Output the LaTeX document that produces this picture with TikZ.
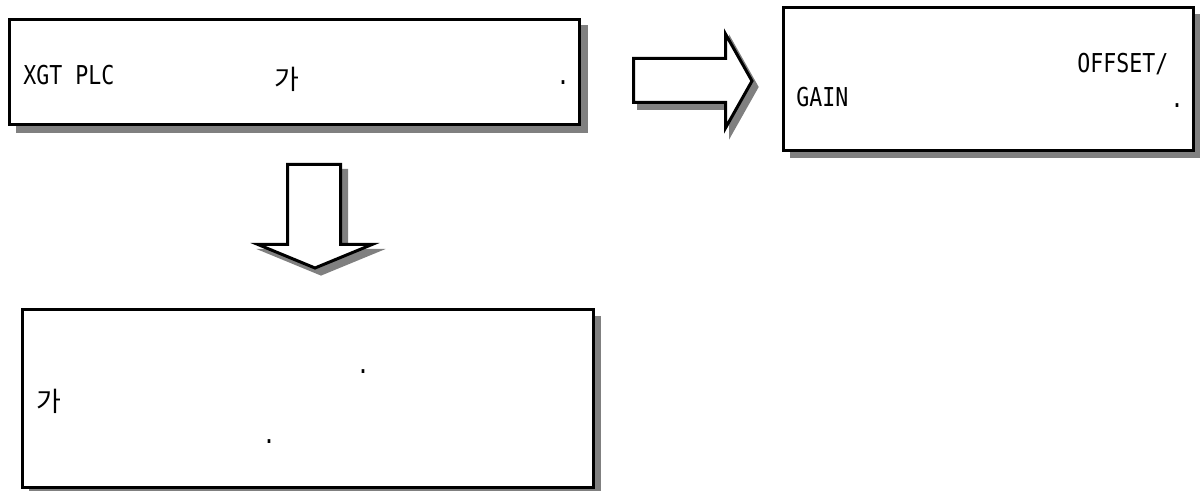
\documentclass[tikz,border=0pt]{standalone}
\usepackage{fontspec}
\setmainfont{DejaVu Sans Mono}[FakeStretch=0.83]
\newfontfamily\kor{Noto Sans CJK KR}
\definecolor{shadowgray}{RGB}{128,128,128}
\begin{document}
\begin{tikzpicture}[x=0.5pt,y=-0.5pt,
  box/.style={draw=black, fill=white, line width=1.5pt, rectangle, inner sep=0pt},
  shade/.style={draw=shadowgray, fill=shadowgray, line width=1.5pt},
  blockarrow/.style={draw=black, fill=white, line width=1.5pt, line join=miter},
  txt/.style={inner sep=0pt, font=\fontsize{13pt}{15pt}\selectfont},
  ktxt/.style={inner sep=0pt, font=\kor\fontsize{13.5pt}{15pt}\selectfont}]
\useasboundingbox (0,0) rectangle (1200,491);
% shadows of boxes
\fill[shadowgray] (15.5,25.5) rectangle (588,133);
\fill[shadowgray] (790,14) rectangle (1200,158);
\fill[shadowgray] (29,316) rectangle (601,497);
% boxes
\node[box, minimum width=285pt, minimum height=52.5pt] (b1) at (294,72) {};
\node[box, minimum width=205pt, minimum height=71.5pt] (b2) at (988.5,79) {};
\node[box, minimum width=285.5pt, minimum height=89.25pt] (b3) at (308,398.75) {};
% right block arrow
\path[shade, shift={(5,6)}] (633.5,58.5) -- (725.5,58.5) -- (725.5,34) -- (752,81) -- (725.5,128) -- (725.5,102.5) -- (633.5,102.5) -- cycle;
\path[blockarrow] (633.5,58.5) -- (725.5,58.5) -- (725.5,34) -- (752,81) -- (725.5,128) -- (725.5,102.5) -- (633.5,102.5) -- cycle;
% down block arrow
\path[shade, shift={(6,6)}] (287.5,164.5) -- (340.5,164.5) -- (340.5,244.5) -- (372,244.5) -- (315,268) -- (258,244.5) -- (287.5,244.5) -- cycle;
\path[blockarrow] (287.5,164.5) -- (340.5,164.5) -- (340.5,244.5) -- (372,244.5) -- (315,268) -- (258,244.5) -- (287.5,244.5) -- cycle;
% texts box 1
\node[txt, anchor=base west] (t1a) at (23,85) {XGT PLC};
\node[ktxt, anchor=center] (t1b) at (287,79) {가};
\node[txt, anchor=base] (t1c) at (563,84.5) {.};
% texts box 2
\node[txt, anchor=base west] (t2a) at (1077,73) {OFFSET/};
\node[txt, anchor=base west] (t2b) at (796,107) {GAIN};
\node[txt, anchor=base] (t2c) at (1177,107.5) {.};
% texts box 3
\node[txt, anchor=base] (t3a) at (363,373.5) {.};
\node[ktxt, anchor=center] (t3b) at (49,401) {가};
\node[txt, anchor=base] (t3c) at (269,443.5) {.};
\end{tikzpicture}
\end{document}
